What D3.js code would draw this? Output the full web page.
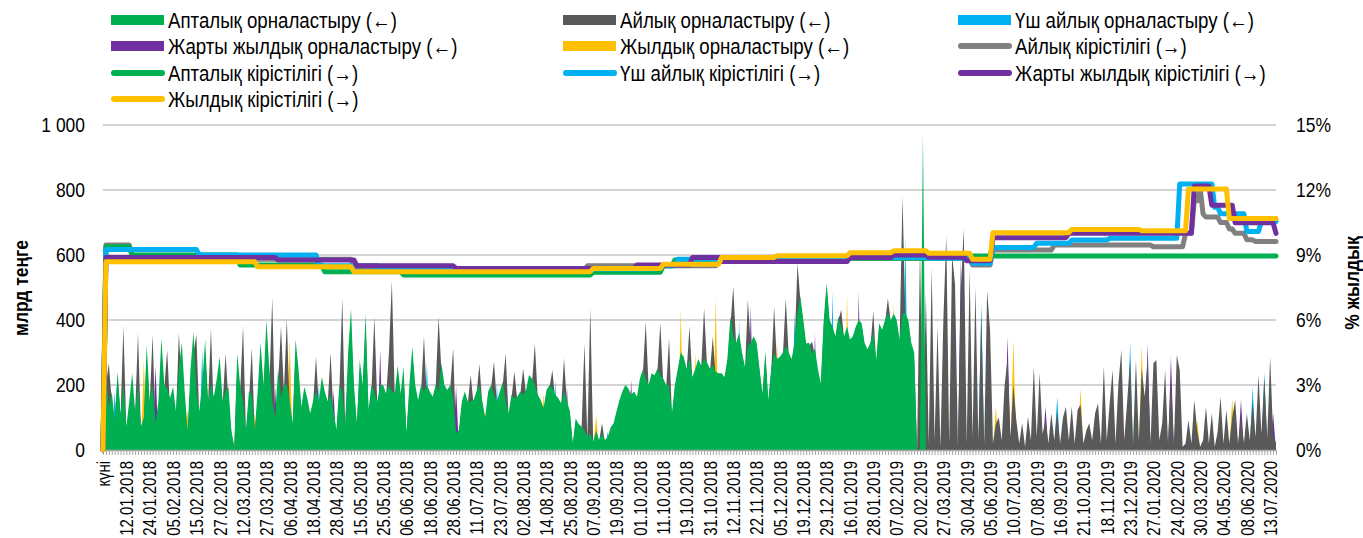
<!DOCTYPE html>
<html lang="kk">
<head>
  <meta charset="UTF-8">
  <title>Ноттар орналастыру және кірістілік</title>
  <script src="https://d3js.org/d3.v7.min.js"></script>
  <style>
    body { margin: 0; background: #fff; }
    svg { display: block; font-family: "Liberation Sans Narrow", "Arial Narrow", "Liberation Sans", Arial, sans-serif; }
    .legend text { font-size: 22.5px; fill: #000; }
    .tick text { fill: #000; }
  </style>
</head>
<body>
  <svg id="chart" width="1363" height="538"></svg>
  <script>
    // x labels, one per 8 trading days (category 0 is the header cell)
    const tickLabels = [
      "күні", "12.01.2018", "24.01.2018", "05.02.2018", "15.02.2018", "27.02.2018", "12.03.2018",
      "27.03.2018", "06.04.2018", "18.04.2018", "28.04.2018", "15.05.2018", "25.05.2018", "06.06.2018",
      "18.06.2018", "28.06.2018", "11.07.2018", "23.07.2018", "02.08.2018", "14.08.2018", "25.08.2018",
      "07.09.2018", "19.09.2018", "01.10.2018", "11.10.2018", "19.10.2018", "31.10.2018", "12.11.2018",
      "22.11.2018", "05.12.2018", "19.12.2018", "29.12.2018", "16.01.2019", "28.01.2019", "07.02.2019",
      "20.02.2019", "27.03.2019", "30.04.2019", "05.06.2019", "10.07.2019", "07.08.2019", "16.09.2019",
      "21.10.2019", "18.11.2019", "23.12.2019", "27.01.2020", "24.02.2020", "30.03.2020", "04.05.2020",
      "08.06.2020", "13.07.2020"
    ];
    const N = 403;

    // placements, bn tenge (left axis)
    const weeklyAmt = [0,
      240,130,180,90,240,110,200,72,150,236,120,200,72,100,323,150,200,82,150,344,
      200,190,160,195,120,250,330,180,60,250,364,180,120,200,340,150,200,164,220,287,
      150,180,195,60,10,297,200,150,62,180,170,60,180,330,200,400,250,150,100,250,
      160,200,200,150,82,340,250,133,195,160,113,150,180,150,225,180,150,170,120,62,
      200,180,82,300,435,200,82,277,200,420,123,200,180,150,200,200,174,200,180,174,
      260,174,256,51,200,318,200,154,200,180,200,180,164,200,180,267,200,185,200,160,
      51,62,150,180,150,150,154,180,200,150,100,180,200,170,150,180,210,150,113,170,
      160,164,180,170,185,231,220,200,170,154,130,185,200,190,170,160,144,180,150,120,
      20,97,80,72,60,41,50,26,60,31,50,31,40,70,82,120,154,180,200,190,
      170,180,164,220,246,220,200,236,230,250,230,220,200,200,113,200,250,300,287,250,
      280,225,250,280,260,280,270,250,260,240,236,236,225,280,410,350,330,360,300,256,
      320,330,350,330,250,174,303,154,250,300,280,287,300,320,300,280,330,420,472,400,
      328,330,300,310,250,205,400,513,400,380,350,410,380,350,380,340,350,380,400,390,
      330,310,330,360,277,390,370,400,420,400,420,400,340,420,420,400,330,300,0,0,
      975,0,0,0,0,0,0,0,0,0,0,0,0,0,0,0,0,0,0,0,
      0,0,0,0,0,0,0,0,0,0,0,0,0,0,0,0,0,0,0,0,
      0,0,0,0,0,0,0,0,0,0,0,0,0,0,0,0,0,0,0,0,
      0,0,0,0,0,0,0,0,0,0,0,0,0,0,0,0,0,0,0,0,
      0,0,0,0,0,0,0,0,0,0,0,0,0,0,0,0,0,0,0,0,
      0,0,0,0,0,0,0,0,0,0,0,0,0,0,0,0,0,0,0,0,
      0,0
    ];
    const monthlyAmt = [0,
      200,266,150,80,230,100,380,60,120,200,110,360,60,90,280,140,354,70,100,300,
      190,308,120,150,100,359,200,150,50,200,300,355,100,150,300,140,374,100,200,250,
      140,297,150,50,10,250,180,380,50,150,313,50,150,300,180,350,200,467,90,200,
      380,180,405,120,70,300,200,120,180,150,100,140,287,130,200,160,140,300,100,50,
      180,467,70,250,380,180,70,250,180,380,110,180,410,140,180,180,160,300,520,160,
      240,160,230,45,180,290,180,140,180,349,150,170,150,190,410,240,190,170,190,313,
      40,55,140,170,140,231,140,170,265,140,90,170,190,272,140,170,200,297,100,160,
      241,150,170,251,170,220,200,328,160,140,120,170,190,246,150,150,130,282,140,110,
      15,90,70,60,328,35,436,20,50,25,82,25,30,60,75,110,140,170,190,180,
      160,170,150,200,230,395,190,220,220,240,390,210,190,344,100,190,240,280,270,240,
      380,210,240,270,250,436,260,240,349,220,220,220,210,270,380,503,320,340,290,240,
      462,320,340,320,240,160,290,140,240,441,260,270,290,467,290,270,310,575,460,390,
      310,320,333,290,240,190,380,500,390,360,340,400,431,340,360,330,340,370,380,380,
      320,300,320,426,260,380,360,390,467,390,390,390,330,780,400,380,310,280,0,626,
      0,480,20,560,30,380,10,400,660,20,600,510,10,500,680,20,555,40,500,30,
      420,20,490,370,20,80,100,30,200,280,40,200,92,20,82,10,103,30,257,40,
      236,50,90,20,113,30,120,20,100,133,30,133,20,123,140,20,60,82,30,113,
      144,20,257,30,144,246,20,205,308,30,150,280,20,277,30,250,164,280,20,267,
      277,30,82,246,20,220,20,292,246,10,20,92,20,154,60,10,30,133,20,113,
      10,56,164,20,123,20,100,154,20,100,20,113,30,150,40,231,50,221,40,287,
      50,20
    ];
    // [category, value] for days with a placement; other days have none
    const threeMonthAmt = [[1,256],[4,180],[34,308],[74,205],[111,267],[135,205],[155,215],[173,56],
      [218,400],[237,431],[250,487],[275,657],[301,450],[327,164],[352,333],[394,195],[398,240]];
    const halfYearAmt = [[18,260],[59,195],[79,185],[95,308],[121,195],[159,195],[181,215],[222,446],
      [244,360],[259,487],[294,590],[310,349],[323,133],[358,328],[366,287],[390,154],[401,113]];
    const yearAmt = [[14,277],[29,123],[52,113],[64,338],[131,123],[151,174],[169,108],[198,436],
      [203,303],[210,467],[231,340],[255,477],[271,456],[306,134],[312,339],[335,190],[356,323],
      [375,92],[387,159]];

    // yields, % (right axis): [first category, value] - value holds until the next entry
    const weeklyYield = [[0,0],[1,9.38],[10,9.0],[47,8.54],[76,8.23],[103,8.08],[168,8.2],[192,8.5],
      [196,8.77],[212,8.85],[290,8.95]];
    const monthlyYield = [[0,0],[1,9.46],[10,8.95],[47,8.8],[86,8.45],[101,8.3],[166,8.5],[211,8.85],
      [298,8.54],[305,9.23],[326,9.46],[360,9.38],[371,10.0],[374,11.5],[376,12.1],[377,10.9],
      [378,10.75],[383,10.5],[386,10.2],[388,10.0],[392,9.7],[395,9.62]];
    const threeMonthYield = [[0,0],[1,9.25],[33,9.0],[74,8.5],[95,8.3],[168,8.35],[190,8.5],[197,8.8],
      [212,8.77],[256,8.89],[283,8.85],[298,8.62],[305,9.35],[320,9.54],[332,9.69],[345,9.77],
      [369,12.28],[381,11.2],[383,10.9],[392,10.08],[397,10.55]];
    const halfYearYield = [[0,0],[1,8.88],[60,8.77],[87,8.5],[121,8.38],[183,8.54],[202,8.89],[212,8.7],
      [256,8.89],[271,9.0],[283,8.9],[296,8.74],[305,9.8],[331,10.0],[374,12.18],[380,11.3],
      [388,10.49],[402,10.0]];
    const yearYield = [[0,0],[1,8.69],[53,8.46],[86,8.23],[168,8.38],[192,8.57],[212,8.89],[231,8.97],
      [256,9.1],[271,9.2],[283,9.08],[298,8.8],[305,10.03],[332,10.18],[356,10.12],[372,12.05],
      [386,10.69]];

    function fromPairs(pairs) {
      const out = new Array(N).fill(0);
      pairs.forEach(([i, v]) => { out[i] = v; });
      return out;
    }
    function fromSteps(steps) {
      const out = [];
      steps.forEach(([start, v], k) => {
        const end = k + 1 < steps.length ? steps[k + 1][0] : N;
        for (let i = start; i < end; i++) out[i] = v;
      });
      return out;
    }

    const C = { green: "#00b050", dark: "#595959", gray: "#808080", blue: "#00b0f0", purple: "#7030a0", yellow: "#ffc000" };

    const svg = d3.select("#chart");
    const plotLeft = 103, plotRight = 1276, plotTop = 125, plotBottom = 450;

    const x = d3.scaleLinear().domain([0, N - 1]).range([plotLeft, plotRight]);
    const yL = d3.scaleLinear().domain([0, 1000]).range([plotBottom, plotTop]);
    const yR = d3.scaleLinear().domain([0, 15]).range([plotBottom, plotTop]);

    // gridlines
    svg.append("g")
      .selectAll("line")
      .data([200, 400, 600, 800, 1000])
      .join("line")
      .attr("x1", plotLeft).attr("x2", plotRight)
      .attr("y1", d => yL(d)).attr("y2", d => yL(d))
      .attr("stroke", "#c4c4c4").attr("stroke-width", 1.5);

    // areas, back to front
    const area = d3.area().x((d, i) => x(i)).y0(yL(0)).y1(d => yL(d));
    const areas = [
      [fromPairs(yearAmt), C.yellow],
      [fromPairs(halfYearAmt), C.purple],
      [fromPairs(threeMonthAmt), C.blue],
      [monthlyAmt, C.dark],
      [weeklyAmt, C.green]
    ];
    svg.append("g")
      .selectAll("path")
      .data(areas)
      .join("path")
      .attr("d", d => area(d[0]))
      .attr("fill", d => d[1]);

    // x axis
    const fmtTick = i => (i % 8 === 0 ? tickLabels[i / 8] : "");
    const xAxis = svg.append("g")
      .attr("transform", `translate(0,${plotBottom})`)
      .call(d3.axisBottom(x).tickValues(d3.range(N)).tickSize(5).tickSizeOuter(0).tickFormat(fmtTick));
    xAxis.select(".domain").attr("stroke", "#a6a6a6").attr("stroke-width", 1.5);
    xAxis.selectAll(".tick line").attr("stroke", "#a6a6a6");
    xAxis.selectAll(".tick text")
      .attr("transform", "rotate(-90)")
      .attr("x", -11).attr("y", 0).attr("dy", "0.35em")
      .style("text-anchor", "end")
      .style("font-size", "18px");

    // y axes
    const fmtThousands = d3.formatLocale({ decimal: ",", thousands: " ", grouping: [3], currency: ["", ""] }).format(",");
    const yAxisL = svg.append("g")
      .attr("transform", `translate(${plotLeft},0)`)
      .call(d3.axisLeft(yL).tickValues([0, 200, 400, 600, 800, 1000]).tickSize(0).tickPadding(18).tickFormat(fmtThousands));
    const yAxisR = svg.append("g")
      .attr("transform", `translate(${plotRight},0)`)
      .call(d3.axisRight(yR).tickValues([0, 3, 6, 9, 12, 15]).tickSize(0).tickPadding(20).tickFormat(d => d + "%"));
    [yAxisL, yAxisR].forEach(g => {
      g.select(".domain").remove();
      g.selectAll(".tick text").style("font-size", "21px");
    });

    svg.append("text")
      .attr("transform", "translate(28,288) rotate(-90)")
      .attr("text-anchor", "middle")
      .style("font-size", "21px").style("font-weight", "bold")
      .text("млрд теңге");
    svg.append("text")
      .attr("transform", "translate(1359,283) rotate(-90)")
      .attr("text-anchor", "middle")
      .style("font-size", "21px").style("font-weight", "bold")
      .text("% жылдық");

    // yield lines, drawn on top
    const line = d3.line().x((d, i) => x(i)).y(d => yR(d));
    const lines = [
      [fromSteps(monthlyYield), C.gray],
      [fromSteps(weeklyYield), C.green],
      [fromSteps(threeMonthYield), C.blue],
      [fromSteps(halfYearYield), C.purple],
      [fromSteps(yearYield), C.yellow]
    ];
    svg.append("g")
      .selectAll("path")
      .data(lines)
      .join("path")
      .attr("d", d => line(d[0]))
      .attr("fill", "none")
      .attr("stroke", d => d[1])
      .attr("stroke-width", 5)
      .attr("stroke-linejoin", "round")
      .attr("stroke-linecap", "round");

    // legend
    const legendItems = [
      ["Апталық орналастыру (←)", C.green, "area"],
      ["Айлық орналастыру (←)", C.dark, "area"],
      ["Үш айлық орналастыру (←)", C.blue, "area"],
      ["Жарты жылдық орналастыру (←)", C.purple, "area"],
      ["Жылдық орналастыру (←)", C.yellow, "area"],
      ["Айлық кірістілігі (→)", C.gray, "line"],
      ["Апталық кірістілігі (→)", C.green, "line"],
      ["Үш айлық кірістілігі (→)", C.blue, "line"],
      ["Жарты жылдық кірістілігі (→)", C.purple, "line"],
      ["Жылдық кірістілігі (→)", C.yellow, "line"]
    ];
    const colX = [111, 563, 958];
    const rowY = [20, 46, 73, 99];
    const lg = svg.append("g").attr("class", "legend")
      .selectAll("g")
      .data(legendItems)
      .join("g")
      .attr("transform", (d, i) => `translate(${colX[i % 3]},${rowY[Math.floor(i / 3)]})`);
    lg.filter(d => d[2] === "area").append("rect")
      .attr("x", 0).attr("y", -5).attr("width", 53).attr("height", 10)
      .attr("fill", d => d[1]);
    lg.filter(d => d[2] === "line").append("line")
      .attr("x1", 3).attr("x2", 51)
      .attr("stroke", d => d[1]).attr("stroke-width", 6).attr("stroke-linecap", "round");
    lg.append("text")
      .attr("x", 57).attr("dy", "0.35em")
      .text(d => d[0]);

    // the original uses a narrow face; squeeze the regular one to match
    svg.selectAll("text").each(function () {
      const w = this.getComputedTextLength();
      if (w > 0) d3.select(this).attr("textLength", w * 0.83).attr("lengthAdjust", "spacingAndGlyphs");
    });
  </script>
</body>
</html>
